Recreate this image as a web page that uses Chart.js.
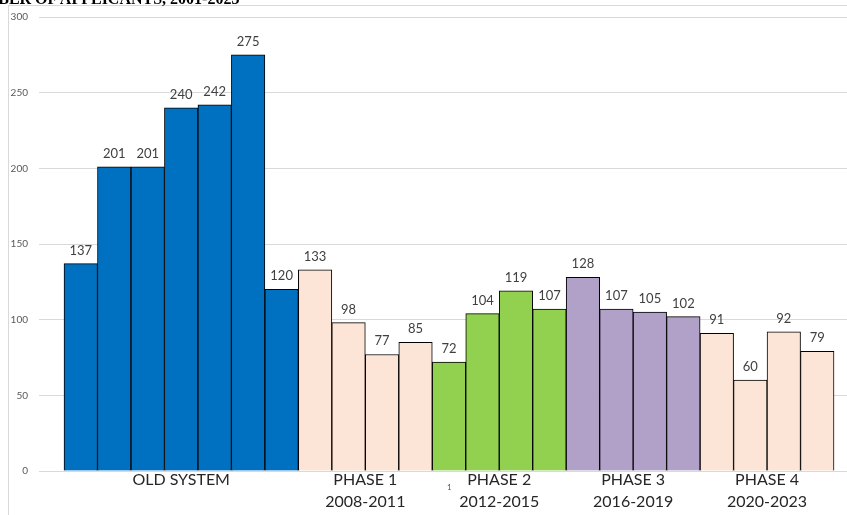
<!DOCTYPE html>
<html>
<head>
<meta charset="utf-8">
<script src="https://cdn.jsdelivr.net/npm/chart.js@4.4.0/dist/chart.umd.min.js"></script>
<style>
  body { margin: 0; background: #fff; overflow: hidden; }
  #wrap { position: relative; width: 847px; height: 515px; }
  #frame { position: absolute; left: 8px; top: 5px; right: -2px; bottom: -2px;
           border-left: 1px solid #d9d9d9; border-top: 1px solid #d9d9d9; }
  #title { position: absolute; left: -40px; top: -9px; white-space: nowrap;
           font: bold 16px "Liberation Serif", serif; color: #000; line-height: 16px; }
  #note { position: absolute; left: 447px; top: 482px; font: 8px Lato, sans-serif; color: #595959; }
  canvas { position: absolute; left: 0; top: 0; }
</style>
</head>
<body>
<div id="wrap">
  <div id="frame"></div>
  <canvas id="mycanvas" width="847" height="515"></canvas>
  <div id="title">NUMBER OF APPLICANTS, 2001-2023</div>
  <div id="note">1</div>
</div>
<script>
var years = [2001, 2002, 2003, 2004, 2005, 2006, 2007, 2008, 2009, 2010, 2011, 2012,
             2013, 2014, 2015, 2016, 2017, 2018, 2019, 2020, 2021, 2022, 2023];
var applicants = [137, 201, 201, 240, 242, 275, 120, 133, 98, 77, 85, 72,
                  104, 119, 107, 128, 107, 105, 102, 91, 60, 92, 79];
var groupNames = [['OLD SYSTEM'], ['PHASE 1', '2008-2011'], ['PHASE 2', '2012-2015'],
                  ['PHASE 3', '2016-2019'], ['PHASE 4', '2020-2023']];
var groupFirst = [2001, 2008, 2012, 2016, 2020];
var groupLast = [2007, 2011, 2015, 2019, 2023];
var groupColors = ['#0070C0', '#FCE4D6', '#92D050', '#B1A0C7', '#FCE4D6'];
var yTicks = [0, 50, 100, 150, 200, 250, 300];

function groupOf(year) {
  for (var g = 0; g < groupFirst.length; g++) {
    if (year >= groupFirst[g] && year <= groupLast[g]) return g;
  }
  return 0;
}

var points = [];
var colors = [];
for (var i in years) {
  points.push({ x: years[i], y: applicants[i] });
  colors.push(groupColors[groupOf(years[i])]);
}
var centers = [];
for (var g = 0; g < groupFirst.length; g++) {
  centers.push((groupFirst[g] + groupLast[g]) / 2);
}

// value labels above each bar
var valueLabels = {
  id: 'valueLabels',
  afterDatasetsDraw: function(chart) {
    var ctx = chart.ctx;
    var meta = chart.getDatasetMeta(0);
    ctx.save();
    ctx.font = '13px Lato, sans-serif';
    ctx.fillStyle = '#404040';
    ctx.textAlign = 'center';
    ctx.textBaseline = 'alphabetic';
    meta.data.forEach(function(bar, i) {
      ctx.fillText(applicants[i], bar.x, bar.y - 9);
    });
    ctx.restore();
  }
};

var ctx = document.getElementById('mycanvas');
var barGraph = new Chart(ctx, {
  type: 'bar',
  data: {
    datasets: [{
      label: 'Applicants',
      data: points,
      backgroundColor: colors,
      borderColor: '#000000',
      borderWidth: 1,
      barPercentage: 1,
      categoryPercentage: 1
    }]
  },
  options: {
    responsive: false,
    animation: false,
    layout: { padding: { top: 13, left: 0, right: 0, bottom: 0 } },
    plugins: {
      legend: { display: false },
      tooltip: { enabled: false },
      title: { display: false }
    },
    scales: {
      x: {
        type: 'linear',
        offset: false,
        min: 1999.753,
        max: 2023.888,
        grid: { display: false, drawTicks: false },
        border: { color: '#d9d9d9' },
        afterBuildTicks: function(scale) {
          scale.ticks = centers.map(function(c) { return { value: c }; });
        },
        afterFit: function(scale) { scale.height = 44; },
        ticks: {
          autoSkip: false,
          maxRotation: 0,
          padding: -2,
          color: '#262626',
          font: { family: 'Lato', size: 16, lineHeight: 1.375 },
          callback: function(value, index) { return groupNames[index]; }
        }
      },
      y: {
        min: 0,
        max: 300,
        afterBuildTicks: function(scale) {
          scale.ticks = yTicks.map(function(v) { return { value: v }; });
        },
        afterFit: function(scale) { scale.width = 39; },
        grid: { color: '#d9d9d9', drawTicks: false },
        border: { display: false },
        ticks: {
          padding: 11,
          color: '#595959',
          font: { family: 'Lato', size: 10 }
        }
      }
    }
  },
  plugins: [valueLabels]
});
</script>
</body>
</html>
